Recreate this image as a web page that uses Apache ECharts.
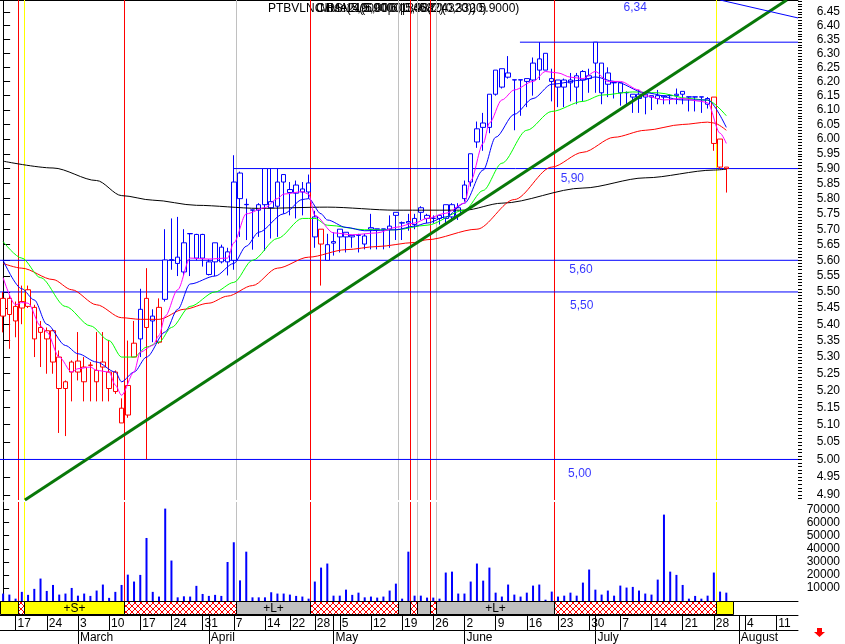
<!DOCTYPE html>
<html><head><meta charset="utf-8">
<script src="https://cdn.jsdelivr.net/npm/echarts@6/dist/echarts.min.js"></script>
<style>html,body{margin:0;padding:0;background:#fff}#c{width:845px;height:644px}</style>
</head><body><div id="c"></div>
<script>
// ---------- categories (trading days 2014) ----------
const febDays = [13,14,17,18,19,20,21,24,25,26,27,28];
const marDays = [3,4,5,6,7,10,11,12,13,14,17,18,19,20,21,24,25,26,27,28,31];
const aprDays = [1,2,3,4,7,8,9,10,11,14,15,16,17,22,23,24,25,28,29,30];
const mayDays = [2,5,6,7,8,9,12,13,14,15,16,19,20,21,22,23,26,27,28,29,30];
const junDays = [2,3,4,5,6,9,10,11,12,13,16,17,18,19,20,23,24,25,26,27,30];
const julDays = [1,2,3,4,7,8,9,10,11,14,15,16,17,18,21,22,23,24,25,28,29,30,31];
const augDays = [1,4,5,6,7,8,11,12,13,14];
const monthNames = ['January','February','March','April','May','June','July','August','September','October','November','December'];

// ---------- OHLC ----------
const opens = [5.48,5.48,5.455,5.45,5.507,5.452,5.39,5.38,5.38,5.30,
5.226,5.285,5.288,5.226,5.275,5.26,5.285,5.255,5.255,5.148,
5.128,5.30,5.355,5.48,5.41,5.452,5.477,5.60,5.59,5.563,
5.685,5.683,5.683,5.555,5.595,5.642,5.627,5.60,5.885,5.78,
5.762,5.762,5.90,5.77,5.775,5.88,5.82,5.818,5.822,5.852,
5.74,5.70,5.65,5.655,5.70,5.69,5.68,5.68,5.652,5.70,
5.70,5.70,5.70,5.745,5.72,5.72,5.735,5.77,5.735,5.735,
5.735,5.735,5.74,5.745,5.80,5.855,5.99,6.04,6.04,6.24,
6.18,6.23,6.205,6.205,6.21,6.205,6.28,6.30,6.20,6.18,
6.18,6.205,6.22,6.205,6.21,6.34,6.265,6.23,6.195,6.195,
6.16,6.155,6.14,6.155,6.15,6.14,6.15,6.15,6.15,6.165,
6.145,6.145,6.145,6.14,6.145,6.00,5.905];
const closes = [5.425,5.43,5.41,5.47,5.455,5.355,5.375,5.355,5.285,5.206,
5.206,5.255,5.255,5.27,5.276,5.226,5.27,5.206,5.197,5.105,
5.215,5.342,5.446,5.39,5.425,5.345,5.601,5.602,5.61,5.656,
5.686,5.607,5.607,5.595,5.656,5.595,5.595,5.855,5.80,5.781,
5.763,5.78,5.78,5.79,5.855,5.855,5.83,5.845,5.832,5.822,
5.675,5.652,5.60,5.66,5.675,5.675,5.675,5.682,5.678,5.705,
5.701,5.701,5.71,5.755,5.721,5.725,5.715,5.755,5.745,5.736,
5.745,5.78,5.78,5.77,5.845,5.95,6.035,6.055,6.155,6.155,
6.245,6.215,6.206,6.206,6.20,6.265,6.24,6.24,6.21,6.205,
6.205,6.195,6.18,6.235,6.22,6.265,6.16,6.19,6.196,6.16,
6.161,6.145,6.155,6.145,6.145,6.15,6.145,6.151,6.155,6.155,
6.146,6.146,6.146,6.12,5.985,5.905,5.90];
const lows = [5.375,5.325,5.36,5.40,5.45,5.30,5.27,5.25,5.25,5.076,
5.067,5.168,5.23,5.168,5.168,5.168,5.168,5.168,5.19,5.105,
5.12,5.30,5.30,5.00,5.345,5.34,5.47,5.57,5.55,5.55,
5.55,5.60,5.58,5.552,5.55,5.59,5.552,5.57,5.675,5.665,
5.634,5.675,5.63,5.67,5.675,5.75,5.745,5.735,5.745,5.80,
5.64,5.52,5.60,5.615,5.625,5.625,5.64,5.625,5.635,5.635,
5.635,5.635,5.64,5.665,5.665,5.695,5.70,5.73,5.72,5.72,
5.715,5.72,5.725,5.73,5.79,5.84,5.97,5.96,6.02,6.15,
6.175,6.21,6.03,6.08,6.11,6.15,6.205,6.24,6.13,6.11,
6.11,6.13,6.12,6.13,6.16,6.16,6.12,6.145,6.14,6.115,
6.12,6.09,6.09,6.085,6.10,6.12,6.12,6.12,6.12,6.12,
6.095,6.095,6.09,6.105,5.96,5.90,5.82];
const highs = [5.50,5.49,5.47,5.52,5.52,5.46,5.41,5.39,5.385,5.32,
5.23,5.29,5.376,5.30,5.285,5.376,5.376,5.35,5.26,5.177,
5.35,5.41,5.51,5.575,5.446,5.48,5.70,5.735,5.74,5.70,
5.686,5.685,5.685,5.603,5.656,5.65,5.64,5.945,5.89,5.80,
5.763,5.785,5.90,5.90,5.90,5.88,5.855,5.86,5.855,5.88,
5.76,5.70,5.685,5.69,5.70,5.69,5.68,5.685,5.685,5.75,
5.701,5.701,5.745,5.755,5.725,5.75,5.75,5.775,5.75,5.745,
5.745,5.78,5.785,5.785,5.86,5.95,6.06,6.09,6.155,6.24,
6.245,6.29,6.206,6.206,6.21,6.285,6.34,6.30,6.245,6.205,
6.21,6.23,6.23,6.24,6.245,6.34,6.265,6.25,6.20,6.195,
6.165,6.155,6.17,6.16,6.15,6.17,6.15,6.155,6.175,6.165,
6.146,6.146,6.146,6.145,6.145,6.00,5.905];
const redCandles = [0,1,2,3,4,5,6,7,8,9,10,11,12,13,14,15,16,17,18,19,20,21,23,25,51,114,115,116];

// ---------- volume ----------
const volumes = [5670,4900,1800,7000,4700,9300,17200,7700,12300,4900,
5700,10000,4100,5700,3900,8000,12600,2400,7000,12300,
20200,14900,20000,48300,7000,3400,70800,31000,2800,3600,
3400,11600,5400,3900,4700,3900,29900,45000,15800,37800,
2800,2800,2800,6700,5700,5700,4900,3900,3400,1800,
14900,25600,28700,4100,4100,8700,4700,6400,2800,3400,
2600,3400,8000,13300,1800,37800,4100,4100,2600,2600,
1800,21800,22500,5700,5700,14900,28700,15600,25600,6400,
3400,12600,4900,3400,6400,11800,12600,1000,7200,3400,
4100,6400,4100,14100,24100,8700,4900,8000,4100,11800,
10300,10800,8000,5700,4900,16400,66200,22500,20000,12300,
1800,3900,1800,4100,21800,7200,6400];

// ---------- moving averages: [day index, price] ----------
const maMagenta = [[0,5.545],[2,5.46],[3,5.467],[4,5.465],[6,5.395],[7,5.376],[9,5.30],[11,5.255],[12,5.265],[14,5.27],[15,5.26],[17,5.255],[18,5.216],[19,5.186],[21,5.255],[22,5.315],[24,5.335],[25,5.365],[26,5.425],[28,5.507],[30,5.607],[33,5.604],[36,5.607],[37,5.656],[39,5.75],[42,5.77],[44,5.80],[45,5.815],[48,5.823],[49,5.815],[50,5.745],[53,5.688],[56,5.682],[60,5.688],[63,5.706],[66,5.72],[68,5.735],[71,5.752],[74,5.785],[75,5.86],[77,5.985],[78,6.055],[80,6.135],[82,6.17],[85,6.20],[87,6.235],[89,6.23],[91,6.215],[93,6.21],[95,6.235],[97,6.20],[99,6.20],[102,6.17],[103,6.15],[106,6.135],[109,6.14],[112,6.13],[113,6.125],[115,6.02],[116,5.985]];
const maBlue = [[0,5.60],[3,5.51],[5,5.475],[7,5.40],[10,5.335],[12,5.31],[15,5.285],[18,5.255],[19,5.226],[21,5.255],[23,5.30],[26,5.376],[28,5.446],[30,5.525],[34,5.55],[37,5.59],[39,5.645],[41,5.69],[45,5.75],[48,5.797],[49,5.80],[51,5.75],[52,5.73],[55,5.706],[58,5.695],[63,5.698],[66,5.71],[68,5.72],[71,5.74],[74,5.785],[77,5.895],[79,6.006],[82,6.085],[85,6.14],[88,6.19],[93,6.205],[95,6.216],[98,6.20],[103,6.16],[109,6.135],[113,6.135],[116,6.04]];
const maGreen = [[0,5.66],[3,5.607],[6,5.545],[10,5.455],[14,5.395],[17,5.35],[19,5.30],[21,5.30],[23,5.33],[25,5.345],[27,5.39],[30,5.455],[34,5.50],[37,5.53],[40,5.60],[44,5.67],[48,5.735],[50,5.735],[52,5.713],[58,5.698],[63,5.698],[68,5.713],[74,5.762],[77,5.827],[80,5.918],[84,6.03],[88,6.095],[93,6.13],[96,6.152],[101,6.163],[105,6.16],[110,6.14],[113,6.134],[116,6.08]];
const maRed = [[0,5.59],[3,5.575],[8,5.539],[11,5.507],[15,5.46],[19,5.42],[22,5.415],[25,5.415],[29,5.446],[33,5.465],[36,5.487],[40,5.52],[44,5.575],[49,5.61],[55,5.634],[60,5.644],[66,5.657],[68,5.666],[76,5.70],[82,5.797],[88,5.905],[93,5.955],[98,6.006],[103,6.03],[109,6.05],[113,6.058],[114,6.055],[116,6.03]];
const maBlack = [[0,5.925],[8,5.902],[15,5.86],[19,5.81],[24,5.795],[31,5.778],[41,5.768],[52,5.772],[63,5.762],[74,5.762],[80,5.785],[93,5.835],[103,5.869],[114,5.895],[116,5.898]];

// ---------- drawn studies ----------
const greenTrend = [[3.5,4.886],[125.7,6.494]];
const blueTrend = [[115.0,6.494],[127.5,6.428]];
const hLevels = [{price:5.00, from:-0.5},{price:5.50, from:-0.5},{price:5.60, from:-0.5},{price:5.90, from:36.9},{price:6.34, from:82.9}];
const levelLabels = [{text:'6,34', day:101.4, price:6.467},{text:'5,90', day:91.3, price:5.865},{text:'5,60', day:92.7, price:5.569},{text:'5,50', day:92.8, price:5.456},{text:'5,00', day:92.5, price:4.959}];
// signal changes: position (in days) and new state (x = crosshatch, S = yellow, L = grey)
const bandSignals = [[2.4,'x'],[3.4,'S'],[19.4,'x'],[37.4,'L'],[49.25,'x'],[63.4,'L'],[65.3,'x'],[66.4,'L'],[68.4,'x'],[69.4,'L'],[88.4,'x'],[114.4,'S']];

// ---------- tick labels ----------
const priceTicks = [4.90,4.95,5.00,5.05,5.10,5.15,5.20,5.25,5.30,5.35,5.40,5.45,5.50,5.55,5.60,5.65,5.70,5.75,5.80,5.85,5.90,5.95,6.00,6.05,6.10,6.15,6.20,6.25,6.30,6.35,6.40,6.45];
const volumeTicks = [10000,20000,30000,40000,50000,60000,70000];
const PRICE_LOW = 4.886, PRICE_HIGH = 6.494, VOL_MAX = 75860;

// ===================================================
const FONT = '"Liberation Sans", Arial, sans-serif';
const pad = n => (n < 10 ? '0' : '') + n;
const dates = [];
[[2,febDays],[3,marDays],[4,aprDays],[5,mayDays],[6,junDays],[7,julDays],[8,augDays]].forEach(([m,ds]) => ds.forEach(d => dates.push('2014-' + pad(m) + '-' + pad(d))));
const N = dates.length;
const tms = dates.map(d => Date.parse(d + 'T00:00:00Z'));
const weekStart = dates.map((d,i) => i > 0 && (tms[i]-tms[i-1]) >= 3*86400000);
const monthStart = dates.map((d,i) => i > 0 && d.slice(5,7) !== dates[i-1].slice(5,7));
const L = Math.log;
const LMIN = L(PRICE_LOW), LMAX = L(PRICE_HIGH);
const XMIN = -0.5, XMAX = N - 0.5;
const lastDay = opens.length - 1;

const minorTicks = [];
for (let k = 489; k <= 649; k++) minorTicks.push(L(k/100));

const candleData = opens.map((o,i) => {
  const col = redCandles.indexOf(i) >= 0 ? '#ff0000' : '#0000ff';
  return {value:[L(o), L(closes[i]), L(lows[i]), L(highs[i])],
    itemStyle:{color:'#ffffff', color0:col, borderColor:col, borderColor0:col, borderColorDoji:col, borderWidth:1}};
});

// band segments + vertical signal lines
const stateColor = {x:'#ff0000', S:'#ffff00', L:'#c0c0c0'};
const bandSegs = [];
let segFrom = XMIN, segState = 'S';
bandSignals.forEach(([d,s]) => { bandSegs.push({from:segFrom, to:d, st:segState}); segFrom = d; segState = s; });
bandSegs.push({from:segFrom, to:lastDay+1, st:segState});
const vLines = bandSignals.map(([d,s]) => ({x:d, color:stateColor[s]}));

// crosshatch pattern
const pc = document.createElement('canvas'); pc.width = 6; pc.height = 6;
const pctx = pc.getContext('2d'); pctx.fillStyle = '#fff'; pctx.fillRect(0,0,6,6);
pctx.fillStyle = '#ff0000';
for (let i = 0; i < 6; i++) { pctx.fillRect(i,i,1,1); pctx.fillRect(5-i,i,1,1); }
const hatch = {image: pc, repeat: 'repeat'};

function vlineRender(params, api) {
  const cs = params.coordSys;
  const x = Math.round(api.coord([api.value(0), api.value(1)])[0]);
  return {type:'rect', shape:{x:x, y:cs.y, width:1, height:cs.height}, style:{fill:vLines[params.dataIndex].color, stroke:null}, silent:true};
}
function bandRender(params, api) {
  const seg = bandSegs[params.dataIndex];
  const p0 = api.coord([seg.from, 1]), p1 = api.coord([seg.to, 0]);
  const x0 = Math.round(p0[0]) + 0.5, x1 = Math.round(p1[0]) + 0.5;
  const y0 = Math.round(p0[1]) + 0.5, y1 = Math.round(p1[1]) - 0.5;
  const fill = seg.st === 'x' ? hatch : stateColor[seg.st];
  const children = [{type:'rect', shape:{x:x0, y:y0, width:x1-x0, height:y1-y0}, style:{fill:fill, stroke:'#000', lineWidth:1}}];
  if (x1 - x0 > 40 && seg.st !== 'x') {
    children.push({type:'text', style:{text: seg.st === 'S' ? '+S+' : '+L+', x:(x0+x1)/2, y:(y0+y1)/2+1, align:'center', verticalAlign:'middle', font:'12px ' + FONT, fill:'#000'}});
  }
  return {type:'group', children:children};
}

const maLine = (data, color) => ({type:'line', xAxisIndex:1, yAxisIndex:0, data:data.map(([d,p]) => [d, L(p)]), symbol:'none', smooth:0.3, smoothMonotone:'x', lineStyle:{color:color, width:1}, z:5, silent:true});

const axisTxt = {color:'#000', fontSize:12, fontFamily:FONT};
const option = {
  animation:false,
  backgroundColor:'#ffffff',
  grid:[
    {left:0, top:0, width:798, height:500, outerBoundsMode:'none', containLabel:false},
    {left:0, top:502, width:798, height:99, outerBoundsMode:'none', containLabel:false},
    {left:0, top:601, width:798, height:14, outerBoundsMode:'none', containLabel:false}
  ],
  xAxis:[
    {gridIndex:0, type:'category', data:dates, boundaryGap:true, position:'top', axisLine:{show:true, onZero:false, lineStyle:{color:'#000', width:1}}, axisTick:{show:false}, axisLabel:{show:false}, splitLine:{show:false}},
    {gridIndex:0, type:'value', min:XMIN, max:XMAX, show:false},
    {gridIndex:1, type:'category', data:dates, boundaryGap:true, position:'bottom', axisLine:{show:true, onZero:false, lineStyle:{color:'#000', width:1}}, axisTick:{show:false}, axisLabel:{show:false}, splitLine:{show:false}},
    {gridIndex:1, type:'value', min:XMIN, max:XMAX, show:false},
    {gridIndex:2, type:'value', min:XMIN, max:XMAX, show:false},
    {gridIndex:2, type:'category', data:dates, boundaryGap:true, position:'bottom',
      axisLine:{show:true, onZero:false, lineStyle:{color:'#000', width:1}},
      axisTick:{show:true, alignWithLabel:true, interval:(i) => weekStart[i], length:15, lineStyle:{color:'#000', width:1}},
      axisLabel:Object.assign({show:true, interval:(i) => weekStart[i], formatter:(v) => String(+v.slice(8)), align:'left', margin:3, padding:[0,0,0,2]}, axisTxt),
      splitLine:{show:false}},
    {gridIndex:2, type:'category', data:dates, boundaryGap:true, position:'bottom',
      axisLine:{show:false, onZero:false},
      axisTick:{show:true, alignWithLabel:true, interval:(i) => monthStart[i], length:29, lineStyle:{color:'#000', width:1}},
      axisLabel:Object.assign({show:true, interval:(i) => monthStart[i], formatter:(v) => monthNames[+v.slice(5,7)-1], align:'left', margin:17, padding:[0,0,0,2]}, axisTxt),
      splitLine:{show:false}},
    {gridIndex:2, type:'category', data:dates, boundaryGap:true, position:'bottom', offset:15,
      axisLine:{show:true, onZero:false, lineStyle:{color:'#000', width:1}}, axisTick:{show:false}, axisLabel:{show:false}, splitLine:{show:false}}
  ],
  yAxis:[
    {gridIndex:0, type:'value', position:'right', min:LMIN, max:LMAX, scale:true,
      axisLine:{show:true, lineStyle:{color:'#000', width:1}},
      axisTick:{show:true, customValues:priceTicks.map(L), length:7, lineStyle:{color:'#000'}},
      axisLabel:Object.assign({show:true, customValues:priceTicks.map(L), formatter:(v) => Math.exp(v).toFixed(2), align:'right', margin:42}, axisTxt),
      splitLine:{show:false}},
    {gridIndex:0, type:'value', position:'right', min:LMIN, max:LMAX, scale:true,
      axisLine:{show:false}, axisTick:{show:true, customValues:minorTicks, length:4, lineStyle:{color:'#000'}},
      axisLabel:{show:false}, splitLine:{show:false}},
    {gridIndex:1, type:'value', position:'right', min:0, max:VOL_MAX,
      axisLine:{show:true, lineStyle:{color:'#000', width:1}},
      axisTick:{show:true, customValues:volumeTicks, length:6, lineStyle:{color:'#000'}},
      axisLabel:Object.assign({show:true, customValues:volumeTicks, formatter:(v) => String(Math.round(v)), align:'right', margin:42}, axisTxt),
      splitLine:{show:false}},
    {gridIndex:2, type:'value', min:0, max:1, show:false}
  ],
  graphic:[
    {type:'text', left:268, top:3, style:{text:'PTBVLNC', font:'12px ' + FONT, fill:'#000'}},
    {type:'text', left:316, top:3, style:{text:'Close(5,9000|6,1300(0,4320))', font:'12px ' + FONT, fill:'#000'}},
    {type:'text', left:320, top:3, style:{text:'MMA21(6,0000|5,9820(0,3320)', font:'12px ' + FONT, fill:'#000'}},
    {type:'text', left:326, top:3, style:{text:'RSI14(5,9000|0,4532)', font:'12px ' + FONT, fill:'#000'}},
    {type:'text', left:472, top:3, style:{text:', 5.9000)', font:'12px ' + FONT, fill:'#000'}},
    {type:'polygon', shape:{points:[[817,628],[822,628],[822,632],[825,632],[819.5,637],[814,632],[817,632]]}, style:{fill:'#ff0000'}}
  ],
  series:[
    {type:'custom', xAxisIndex:1, yAxisIndex:0, renderItem:vlineRender, data:vLines.map(v => [v.x, LMIN]), z:1, silent:true, clip:false},
    ...hLevels.map(h => ({type:'line', xAxisIndex:1, yAxisIndex:0, data:[[h.from, L(h.price)],[XMAX, L(h.price)]], symbol:'none', lineStyle:{color:'#0000ff', width:1}, z:2, silent:true})),
    {type:'candlestick', xAxisIndex:0, yAxisIndex:0, data:candleData, barWidth:5, z:3, silent:true},
    maLine(maBlack, '#000000'),
    maLine(maRed, '#ff0000'),
    maLine(maGreen, '#00ff00'),
    maLine(maBlue, '#0000ff'),
    maLine(maMagenta, '#ff00ff'),
    {type:'line', xAxisIndex:1, yAxisIndex:0, data:greenTrend.map(([d,p]) => [d, L(p)]), symbol:'none', lineStyle:{color:'#087808', width:3}, z:6, silent:true},
    {type:'line', xAxisIndex:1, yAxisIndex:0, data:blueTrend.map(([d,p]) => [d, L(p)]), symbol:'none', lineStyle:{color:'#0000ff', width:1}, z:6, silent:true},
    {type:'scatter', xAxisIndex:1, yAxisIndex:0, symbolSize:1, itemStyle:{color:'rgba(0,0,0,0)'}, z:7, silent:true,
      label:{show:true, position:'inside', formatter:(p) => p.name, color:'#0000ff', fontSize:12, fontFamily:FONT},
      data:levelLabels.map(l => ({name:l.text, value:[l.day, L(l.price)]}))},
    {type:'custom', xAxisIndex:3, yAxisIndex:2, renderItem:vlineRender, data:vLines.map(v => [v.x, 0]), z:1, silent:true, clip:false},
    {type:'bar', xAxisIndex:2, yAxisIndex:2, data:volumes, barWidth:2, itemStyle:{color:'#0000ff'}, z:3, silent:true},
    {type:'custom', xAxisIndex:4, yAxisIndex:3, renderItem:bandRender, data:bandSegs.map(s => [s.from, s.to]), z:4, silent:true, clip:false}
  ]
};
const chart = echarts.init(document.getElementById('c'), null, {renderer:'canvas'});
chart.setOption(option);
</script>
</body></html>
